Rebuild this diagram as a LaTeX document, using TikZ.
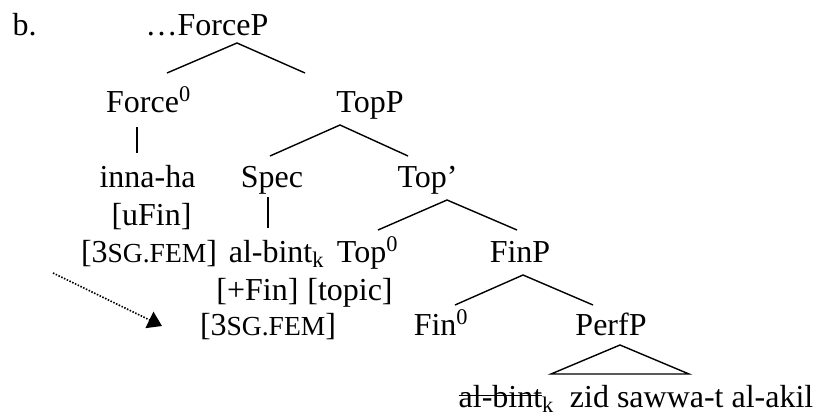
\documentclass[tikz,border=0pt]{standalone}
\usepackage{fontspec}
\setmainfont{Liberation Serif}
\usetikzlibrary{arrows.meta,calc}
\newcommand{\fakesc}[1]{{\fontsize{23.5}{28}\selectfont #1}}
\newsavebox{\strikebox}
\newcommand{\struck}[1]{\sbox{\strikebox}{#1}\rlap{\rule[0.34em]{\wd\strikebox}{1.1pt}}\usebox{\strikebox}}

\begin{document}
\begin{tikzpicture}
[x=0.03cm, y=-0.03cm, draw=black, line width=1.2pt,
>={Triangle[length=0.42cm,width=0.54cm]},
synnode/.style={anchor=base, inner sep=0pt, font=\fontsize{27.3}{33}\selectfont},
movement/.style={->, line width=1.4pt, dash pattern=on 1.3pt off 1.3pt}]

\useasboundingbox (0,0) rectangle (815,417);

\node[synnode, anchor=base west] (ex) at (12,35) {b.};
\node[synnode] (forcep) at (207,35) {…ForceP};
\node[synnode] (force) at (148.5,112) {Force\textsuperscript{0}};
\node[synnode] (topp) at (370,112) {TopP};
\node[synnode] (innaha) at (147.5,187) {inna-ha};
\node[synnode] (ufin) at (151.5,225) {[uFin]};
\node[synnode] (femforce) at (149,262) {[3\fakesc{SG.FEM}]};
\node[synnode] (spec) at (272,187) {Spec};
\node[synnode] (albint) at (276.5,262) {al-bint\textsubscript{k}};
\node[synnode] (plusfin) at (257.5,300) {[+Fin]};
\node[synnode] (femspec) at (268,335) {[3\fakesc{SG.FEM}]};
\node[synnode] (topbar) at (427.5,187) {Top’};
\node[synnode] (top) at (367.5,262) {Top\textsuperscript{0}};
\node[synnode] (topic) at (350,300) {[topic]};
\node[synnode] (finp) at (520,262) {FinP};
\node[synnode] (fin) at (441,335) {Fin\textsuperscript{0}};
\node[synnode] (perfp) at (611,335) {PerfP};
\node[synnode, anchor=base west] (clause) at (458,407)
  {\struck{al-bint}\textsubscript{k}\ \ zid sawwa-t al-akil};

\draw ($(force.base)+(18.5,-39)$) -- ($(forcep.base)+(30,8)$) -- ($(topp.base)+(-65,-39)$);
\draw ($(force.base)+(-11.5,15)$) -- ($(innaha.base)+(-10.5,-34)$);
\draw ($(spec.base)+(-2,-31)$) -- ($(topp.base)+(-30,13)$) -- ($(topbar.base)+(-19.5,-31)$);
\draw ($(spec.base)+(-4,10)$) -- ($(albint.base)+(-8.5,-34)$);
\draw ($(top.base)+(10.5,-32)$) -- ($(topbar.base)+(19.5,13)$) -- ($(finp.base)+(-3,-32)$);
\draw ($(fin.base)+(14,-30)$) -- ($(finp.base)+(3,13)$) -- ($(perfp.base)+(-18,-30)$);
\draw ($(clause.base west)+(93,-33)$) -- ($(perfp.base)+(9,10)$) -- ($(clause.base west)+(231,-33)$) -- cycle;

\coordinate (tail) at (53,273);
\coordinate (head) at (162,326);
\draw[movement] (tail) -- (head);
\end{tikzpicture}
\end{document}
